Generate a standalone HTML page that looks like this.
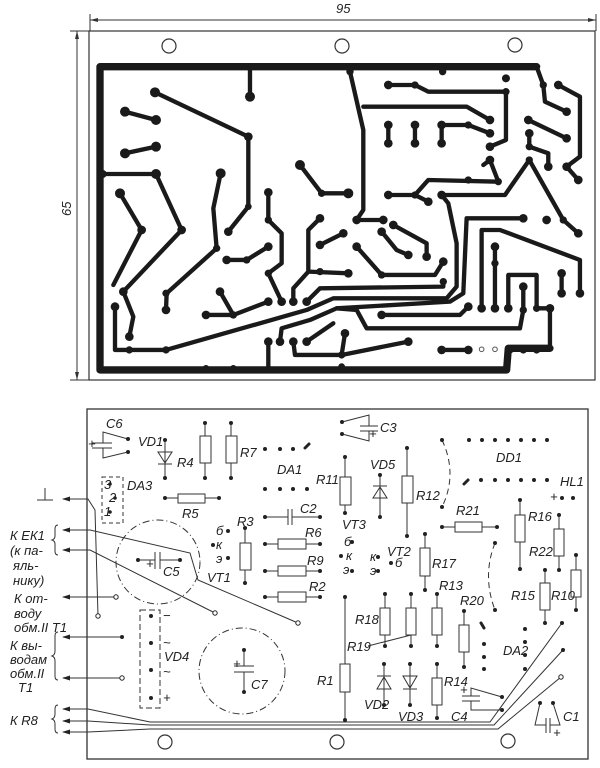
<!DOCTYPE html>
<html><head><meta charset="utf-8"><style>
html,body{margin:0;padding:0;background:#fff}
svg{display:block}
text{font-family:"Liberation Sans",sans-serif;font-style:italic;font-size:13px;fill:#222}
</style></head><body>
<svg width="600" height="768" viewBox="0 0 600 768" xmlns="http://www.w3.org/2000/svg">
<!-- dimensions -->
<g stroke="#333" stroke-width="1" fill="none">
<line x1="90" y1="20" x2="596" y2="20"/>
<line x1="90" y1="14" x2="90" y2="31"/>
<line x1="596" y1="14" x2="596" y2="31"/>
<line x1="77" y1="31" x2="77" y2="380"/>
<line x1="70" y1="31" x2="90" y2="31"/>
<line x1="70" y1="380" x2="90" y2="380"/>
</g>
<g fill="#333"><path d="M90,20 l8,-2 v4z"/><path d="M596,20 l-8,-2 v4z"/><path d="M77,31 l-2,8 h4z"/><path d="M77,380 l-2,-8 h4z"/></g>
<text x="336" y="13">95</text>
<text x="0" y="0" transform="translate(71,216) rotate(-90)">65</text>
<!-- top board -->
<rect x="89" y="31" width="506" height="349" fill="none" stroke="#333" stroke-width="1.2"/>
<g fill="none" stroke="#333" stroke-width="1.2"><circle cx="169" cy="46" r="7"/><circle cx="342" cy="46" r="7"/><circle cx="515" cy="45" r="7"/></g>
<g transform="translate(80,30) scale(0.3333)" fill="none" stroke="#1a1a1a" stroke-linejoin="round" stroke-linecap="round">
<path stroke-width="22" d="M1370,110 L60,110 L60,1020 L1280,1020 L1285,955 L1410,955"/>
<g stroke-width="13">
<path d="M510,112 L510,200"/>
<path d="M225,187 L505,320 L505,530 L445,605"/>
<path d="M135,245 L228,270"/>
<path d="M135,370 L228,350"/>
<path d="M68,432 L228,432 L305,600 L130,785 L160,860 L148,920"/>
<path d="M120,490 L185,600 L100,765"/>
<path d="M422,430 L400,535 L410,655 L260,790 L258,840"/>
<path d="M565,487 L565,570 L605,610 L605,700 L565,730 L605,815"/>
<path d="M440,690 L500,690 L565,650"/>
<path d="M660,405 L725,490 L805,490"/>
<path d="M810,125 L850,300 L850,540 L830,570 L910,570"/>
<path d="M850,230 L1160,230 L1230,270"/>
<path d="M925,165 L1005,165 L1045,185 L1278,185 L1278,330 L1230,350"/>
<path d="M925,285 L925,340 M1005,285 L1005,340 M1085,285 L1085,340 M1085,285 L1165,285 L1230,310"/>
<path d="M1370,110 L1390,165 L1395,215 L1460,245"/>
<path d="M1435,165 L1500,200 L1500,380 L1460,410 L1495,450"/>
<path d="M1345,270 L1460,325"/>
<path d="M1348,310 L1348,350 L1405,370 L1405,410"/>
<path d="M1230,390 L1255,455 L1045,450 L1005,495 L925,495 M1005,495 L1045,515 M1230,390 L1210,405"/>
<path d="M1085,495 L1275,495 L1348,390 L1450,570 L1495,610"/>
<path d="M720,565 L685,600 L685,725 L805,730 M685,725 L640,775 L640,815"/>
<path d="M720,645 L790,610"/>
<path d="M830,650 L905,735 L1065,735 L1090,695"/>
<path d="M905,605 L950,660 L985,675"/>
<path d="M940,585 L1040,640 L1040,680"/>
<path d="M105,830 L105,960 L258,960 L680,840 L760,805 L1100,805 L1130,770 L1130,640 L1105,520 L1085,495"/>
<path d="M680,815 L720,775 L1090,770 L1090,755"/>
<path d="M378,855 L460,855 L565,815 M420,785 L460,855"/>
<path d="M1330,565 L1160,565 L1150,790 L1110,815 L770,835 L690,870 L605,895 L600,935"/>
<path d="M770,835 L830,840 L860,895 L1320,895 L1330,840 L1330,770"/>
<path d="M1205,835 L1205,600 L1260,600 L1500,690 L1500,790"/>
<path d="M1245,650 L1245,835"/>
<path d="M1285,835 L1285,735 L1370,735 L1370,835 L1410,835 L1410,955"/>
<path d="M1445,730 L1445,790"/>
<path d="M905,855 L1140,855 L1165,830"/>
<path d="M565,935 L565,1010"/>
<path d="M640,935 L645,975 L785,975 L985,935 M785,975 L795,910 M680,935 L760,880"/>
<path d="M1085,960 L1165,960"/>
</g>
</g>
<g transform="translate(80,30) scale(0.3333)" fill="#1a1a1a" stroke="none">
<g id="pads">
<circle cx="510" cy="200" r="15"/><circle cx="225" cy="187" r="15"/><circle cx="505" cy="320" r="13"/><circle cx="505" cy="530" r="10"/><circle cx="445" cy="605" r="13"/>
<circle cx="135" cy="245" r="15"/><circle cx="228" cy="270" r="15"/><circle cx="135" cy="370" r="15"/><circle cx="228" cy="350" r="15"/>
<circle cx="68" cy="432" r="12"/><circle cx="228" cy="432" r="15"/><circle cx="305" cy="600" r="13"/><circle cx="130" cy="785" r="13"/><circle cx="148" cy="920" r="13"/>
<circle cx="120" cy="490" r="15"/><circle cx="185" cy="600" r="13"/><circle cx="422" cy="430" r="15"/><circle cx="410" cy="655" r="11"/><circle cx="258" cy="840" r="13"/><circle cx="258" cy="790" r="11"/>
<circle cx="565" cy="487" r="13"/><circle cx="565" cy="570" r="11"/><circle cx="565" cy="730" r="11"/><circle cx="605" cy="815" r="13"/>
<circle cx="440" cy="690" r="13"/><circle cx="500" cy="690" r="11"/><circle cx="565" cy="650" r="13"/>
<circle cx="660" cy="405" r="15"/><circle cx="725" cy="490" r="11"/><circle cx="805" cy="490" r="15"/>
<circle cx="810" cy="125" r="11"/><circle cx="830" cy="570" r="13"/><circle cx="910" cy="570" r="13"/>
<circle cx="1230" cy="270" r="13"/><circle cx="925" cy="165" r="13"/><circle cx="1005" cy="165" r="11"/><circle cx="1278" cy="185" r="11"/><circle cx="1230" cy="350" r="13"/>
<circle cx="925" cy="285" r="13"/><circle cx="925" cy="340" r="13"/><circle cx="1005" cy="285" r="13"/><circle cx="1005" cy="340" r="13"/><circle cx="1085" cy="285" r="13"/><circle cx="1085" cy="340" r="13"/><circle cx="1165" cy="285" r="11"/><circle cx="1230" cy="310" r="13"/>
<circle cx="1088" cy="125" r="11"/><circle cx="1278" cy="145" r="12"/>
<circle cx="1390" cy="165" r="11"/><circle cx="1460" cy="245" r="13"/><circle cx="1435" cy="165" r="13"/><circle cx="1460" cy="410" r="13"/><circle cx="1495" cy="450" r="13"/>
<circle cx="1345" cy="270" r="13"/><circle cx="1460" cy="325" r="13"/><circle cx="1348" cy="310" r="13"/><circle cx="1348" cy="350" r="11"/><circle cx="1405" cy="410" r="13"/>
<circle cx="1230" cy="390" r="13"/><circle cx="1255" cy="455" r="11"/><circle cx="1165" cy="450" r="11"/><circle cx="925" cy="495" r="13"/><circle cx="1005" cy="495" r="11"/><circle cx="1045" cy="515" r="13"/>
<circle cx="1085" cy="495" r="13"/><circle cx="1348" cy="390" r="11"/><circle cx="1450" cy="570" r="11"/><circle cx="1495" cy="610" r="13"/>
<circle cx="720" cy="565" r="13"/><circle cx="720" cy="725" r="11"/><circle cx="805" cy="730" r="13"/><circle cx="640" cy="815" r="13"/>
<circle cx="720" cy="645" r="13"/><circle cx="790" cy="610" r="13"/><circle cx="830" cy="650" r="13"/><circle cx="905" cy="735" r="11"/><circle cx="1090" cy="695" r="13"/>
<circle cx="905" cy="605" r="13"/><circle cx="985" cy="675" r="13"/><circle cx="940" cy="585" r="13"/><circle cx="1040" cy="680" r="13"/>
<circle cx="105" cy="830" r="13"/><circle cx="148" cy="960" r="11"/><circle cx="258" cy="960" r="11"/><circle cx="680" cy="815" r="13"/><circle cx="1090" cy="755" r="11"/>
<circle cx="378" cy="855" r="13"/><circle cx="460" cy="855" r="11"/><circle cx="565" cy="815" r="13"/><circle cx="420" cy="785" r="13"/>
<circle cx="1330" cy="565" r="13"/><circle cx="1400" cy="570" r="13"/><circle cx="600" cy="935" r="13"/><circle cx="1330" cy="770" r="13"/><circle cx="1330" cy="840" r="11"/>
<circle cx="1205" cy="835" r="13"/><circle cx="1500" cy="790" r="13"/><circle cx="1245" cy="650" r="13"/><circle cx="1245" cy="700" r="11"/><circle cx="1245" cy="835" r="13"/>
<circle cx="1285" cy="835" r="13"/><circle cx="1370" cy="835" r="11"/><circle cx="1410" cy="835" r="13"/><circle cx="1445" cy="730" r="13"/><circle cx="1445" cy="790" r="13"/>
<circle cx="905" cy="855" r="13"/><circle cx="1165" cy="830" r="13"/><circle cx="565" cy="935" r="13"/><circle cx="640" cy="935" r="13"/><circle cx="785" cy="975" r="11"/><circle cx="985" cy="935" r="13"/><circle cx="795" cy="910" r="13"/><circle cx="680" cy="935" r="13"/>
<circle cx="1085" cy="960" r="13"/><circle cx="1165" cy="960" r="13"/><circle cx="1330" cy="960" r="11"/><circle cx="1370" cy="960" r="11"/><circle cx="1290" cy="960" r="11"/>
<circle cx="378" cy="1015" r="10"/><circle cx="460" cy="1015" r="10"/><circle cx="785" cy="1010" r="10"/><circle cx="1205" cy="958" r="7" fill="none" stroke="#555" stroke-width="3"/><circle cx="1245" cy="958" r="7" fill="none" stroke="#555" stroke-width="3"/>
</g>
</g>
<!-- bottom board -->
<rect x="87" y="409" width="501" height="350" fill="none" stroke="#333" stroke-width="1.3"/>
<g fill="none" stroke="#333" stroke-width="1.2"><circle cx="165" cy="742" r="7"/><circle cx="337" cy="742" r="7"/><circle cx="508" cy="741" r="7"/></g>
<g fill="none" stroke="#333" stroke-width="1">
<!-- circles dash-dot -->
<circle cx="158" cy="562" r="42" stroke-dasharray="7,3,1,3"/>
<circle cx="242" cy="671" r="43" stroke-dasharray="7,3,1,3"/>
<!-- DA3, VD4 dashed -->
<rect x="102" y="477" width="21" height="46" stroke-dasharray="4,3"/>
<rect x="140" y="610" width="20" height="98" stroke-dasharray="6,3"/>
<!-- arcs dashed -->
<path d="M442,440 Q458,474 442,507" stroke-dasharray="6,4"/>
<path d="M495,543 Q482,576 495,610" stroke-dasharray="6,4"/>
<!-- resistors bodies -->
<rect x="200" y="436" width="11" height="27"/><rect x="226" y="436" width="11" height="27"/>
<rect x="178" y="494" width="27" height="9"/>
<rect x="240" y="543" width="11" height="27"/>
<rect x="278" y="539" width="28" height="10"/><rect x="278" y="566" width="28" height="10"/><rect x="278" y="592" width="28" height="10"/>
<rect x="340" y="477" width="11" height="28"/><rect x="402" y="476" width="11" height="27"/>
<rect x="455" y="522" width="27" height="10"/>
<rect x="420" y="548" width="10" height="28"/>
<rect x="380" y="608" width="10" height="27"/><rect x="406" y="608" width="10" height="27"/><rect x="432" y="608" width="10" height="27"/>
<rect x="459" y="625" width="10" height="27"/>
<rect x="340" y="664" width="10" height="28"/><rect x="432" y="678" width="10" height="27"/>
<rect x="515" y="515" width="10" height="27"/><rect x="554" y="529" width="10" height="27"/><rect x="540" y="583" width="10" height="27"/><rect x="571" y="570" width="10" height="27"/>
<!-- leads -->
<path d="M205,423V436M205,463V478M231,423V436M231,463V478"/>
<path d="M165,498H178M205,498H219"/>
<path d="M245,528V543M245,570V583"/>
<path d="M265,544H278M306,544H320M265,571H278M306,571H320M265,597H278M306,597H320"/>
<path d="M265,517H288M292,517H320M288,509V525M292,509V525"/>
<path d="M345,457V477M345,505V513M407,448V476M407,503V536"/>
<path d="M442,527H455M482,527H497M425,534V548M425,576V590"/>
<path d="M385,594V608M385,635V646M411,594V608M411,635V646M437,594V608M437,635V646M464,611V625M464,652V667"/>
<path d="M345,597V664M345,692V720M437,664V678M437,705V718"/>
<path d="M520,500V515M520,542V569M559,515V529M559,556V570M545,570V583M545,610V623M576,555V570M576,597V610"/>
<path d="M368,646L411,635"/>
<!-- diodes -->
<path d="M165,440V478M158,452H172L165,463ZM158,464H172"/>
<path d="M380,475V517M373,498H387L380,487ZM373,486H387"/>
<path d="M384,664V705M377,689H391L384,677ZM377,676H391"/>
<path d="M410,664V705M403,676H417L410,688ZM403,689H417"/>
<!-- C6 -->
<path d="M92,443H112M92,448H112M103,443L103,432L128,439M103,448L103,458L128,452"/>
<!-- C3 -->
<path d="M360,426H378M360,431H378M342,422L369,415L369,426M342,434L369,441L369,431"/>
<!-- C5 -->
<path d="M138,560H155M160,560H180M155,552V569M160,552V569"/>
<!-- C7 -->
<path d="M234,666H254M234,672H254M244,650V666M244,672V692"/>
<!-- C4 -->
<path d="M462,696H480M462,701H480M471,696L471,688L502,697M471,701L471,710L502,710"/>
<!-- C1 -->
<path d="M540,703L535,725H546M553,703L560,725H550M546,718V733M550,718V733"/>
<!-- ground -->
<path d="M45,488V500M37,500H53"/>
<!-- wires -->
<path d="M63,499H88L95,510L98,616"/>
<path d="M63,530H90L190,553L198,580L298,623"/>
<path d="M63,550H90L215,613"/>
<path d="M63,597H116M63,637H122M63,678H122"/>
<path d="M63,709H88L150,722H490L562,623"/>
<path d="M63,721H88L150,725H494L563,650"/>
<path d="M63,732H88L150,729H498L561,677"/>
<!-- braces -->
<path d="M58,525 q-3,0 -3,4 v7 q0,3 -3,4 q3,1 3,4 v7 q0,4 3,4"/>
<path d="M58,632 q-3,0 -3,4 v15 q0,4 -3,5 q3,1 3,5 v15 q0,4 3,4"/>
<path d="M58,705 q-3,0 -3,4 v5 q0,4 -3,5 q3,1 3,5 v5 q0,4 3,4"/>
</g>
<!-- arrowheads -->
<g fill="#222"><path d="M62,499l8,-2.5v5z"/><path d="M62,530l8,-2.5v5z"/><path d="M62,550l8,-2.5v5z"/><path d="M62,597l8,-2.5v5z"/><path d="M62,637l8,-2.5v5z"/><path d="M62,678l8,-2.5v5z"/><path d="M62,709l8,-2.5v5z"/><path d="M62,721l8,-2.5v5z"/><path d="M62,732l8,-2.5v5z"/></g>
<!-- pads -->
<g fill="#222">
<circle cx="128" cy="439" r="2"/><circle cx="128" cy="452" r="2"/><circle cx="165" cy="440" r="2"/><circle cx="165" cy="478" r="2"/>
<circle cx="205" cy="423" r="2"/><circle cx="205" cy="478" r="2"/><circle cx="231" cy="423" r="2"/><circle cx="231" cy="478" r="2"/>
<circle cx="265" cy="449" r="2"/><circle cx="280" cy="449" r="2"/><circle cx="293" cy="449" r="2"/>
<circle cx="265" cy="489" r="2"/><circle cx="280" cy="489" r="2"/><circle cx="293" cy="489" r="2"/><circle cx="307" cy="489" r="2"/>
<circle cx="110" cy="484" r="1.8"/><circle cx="115" cy="498" r="1.8"/><circle cx="110" cy="512" r="1.8"/>
<circle cx="165" cy="498" r="2"/><circle cx="219" cy="498" r="2"/><circle cx="245" cy="528" r="2"/><circle cx="245" cy="583" r="2"/>
<circle cx="228" cy="531" r="2"/><circle cx="213" cy="545" r="2"/><circle cx="228" cy="558" r="2"/>
<circle cx="265" cy="517" r="2"/><circle cx="320" cy="517" r="2"/><circle cx="265" cy="544" r="2"/><circle cx="320" cy="544" r="2"/><circle cx="265" cy="571" r="2"/><circle cx="320" cy="571" r="2"/><circle cx="265" cy="597" r="2"/><circle cx="320" cy="597" r="2"/>
<circle cx="138" cy="560" r="2"/><circle cx="180" cy="560" r="2"/><circle cx="244" cy="650" r="2"/><circle cx="244" cy="692" r="2"/>
<circle cx="151" cy="616" r="2"/><circle cx="151" cy="643" r="2"/><circle cx="151" cy="670" r="2"/><circle cx="151" cy="698" r="2"/>
<circle cx="122" cy="637" r="2"/>
<circle cx="342" cy="422" r="2"/><circle cx="342" cy="434" r="2"/>
<circle cx="345" cy="457" r="2"/><circle cx="345" cy="513" r="2"/><circle cx="380" cy="475" r="2"/><circle cx="380" cy="517" r="2"/><circle cx="407" cy="448" r="2"/><circle cx="407" cy="536" r="2"/>
<circle cx="469" cy="440" r="2"/><circle cx="482" cy="440" r="2"/><circle cx="495" cy="440" r="2"/><circle cx="508" cy="440" r="2"/><circle cx="521" cy="440" r="2"/><circle cx="534" cy="440" r="2"/><circle cx="547" cy="440" r="2"/>
<circle cx="481" cy="480" r="2"/><circle cx="495" cy="480" r="2"/><circle cx="508" cy="480" r="2"/><circle cx="521" cy="480" r="2"/><circle cx="534" cy="480" r="2"/><circle cx="547" cy="480" r="2"/>
<circle cx="442" cy="440" r="2"/><circle cx="442" cy="507" r="2"/><circle cx="495" cy="543" r="2"/><circle cx="495" cy="610" r="2"/>
<circle cx="562" cy="498" r="2"/><circle cx="573" cy="498" r="2"/>
<circle cx="352" cy="542" r="2"/><circle cx="341" cy="556" r="2"/><circle cx="352" cy="571" r="2"/><circle cx="378" cy="557" r="2"/><circle cx="391" cy="563" r="2"/><circle cx="378" cy="571" r="2"/>
<circle cx="442" cy="527" r="2"/><circle cx="497" cy="527" r="2"/><circle cx="425" cy="534" r="2"/><circle cx="425" cy="590" r="2"/>
<circle cx="385" cy="594" r="2"/><circle cx="385" cy="646" r="2"/><circle cx="411" cy="594" r="2"/><circle cx="411" cy="646" r="2"/><circle cx="437" cy="594" r="2"/><circle cx="437" cy="646" r="2"/><circle cx="464" cy="611" r="2"/><circle cx="464" cy="667" r="2"/>
<circle cx="345" cy="597" r="2"/><circle cx="345" cy="720" r="2"/><circle cx="384" cy="664" r="2"/><circle cx="384" cy="705" r="2"/><circle cx="410" cy="664" r="2"/><circle cx="410" cy="705" r="2"/><circle cx="437" cy="664" r="2"/><circle cx="437" cy="718" r="2"/>
<circle cx="502" cy="697" r="2"/><circle cx="502" cy="710" r="2"/>
<circle cx="484" cy="644" r="2"/><circle cx="484" cy="657" r="2"/><circle cx="484" cy="669" r="2"/><circle cx="525" cy="629" r="2"/><circle cx="525" cy="642" r="2"/><circle cx="525" cy="655" r="2"/><circle cx="525" cy="669" r="2"/>
<circle cx="520" cy="500" r="2"/><circle cx="520" cy="569" r="2"/><circle cx="559" cy="515" r="2"/><circle cx="559" cy="570" r="2"/><circle cx="545" cy="570" r="2"/><circle cx="545" cy="623" r="2"/><circle cx="576" cy="555" r="2"/><circle cx="576" cy="610" r="2"/>
<circle cx="562" cy="623" r="2"/><circle cx="563" cy="650" r="2"/><circle cx="540" cy="703" r="2"/><circle cx="553" cy="703" r="2"/>
</g>
<g fill="#fff" stroke="#222" stroke-width="1"><circle cx="116" cy="597" r="2.2"/><circle cx="98" cy="616" r="2.2"/><circle cx="298" cy="623" r="2.2"/><circle cx="215" cy="613" r="2.2"/><circle cx="122" cy="678" r="2.2"/><circle cx="561" cy="677" r="2.2"/></g>
<g stroke="#222" stroke-width="3" stroke-linecap="round"><path d="M305,448l4,-4"/><path d="M464,484l4,-4"/><path d="M481,623l3,5"/></g>
<!-- labels -->
<g>
<text x="106" y="428">C6</text><text x="88" y="448" font-size="12">+</text>
<text x="138" y="446">VD1</text><text x="177" y="467">R4</text><text x="240" y="457">R7</text>
<text x="277" y="474">DA1</text><text x="127" y="490">DA3</text>
<text x="104" y="489" font-size="10">3</text><text x="109" y="502" font-size="10">2</text><text x="104" y="516" font-size="10">1</text>
<text x="182" y="518">R5</text><text x="237" y="526">R3</text>
<text x="216" y="535" font-size="11">б</text><text x="216" y="549" font-size="11">к</text><text x="216" y="563" font-size="11">э</text>
<text x="207" y="582">VT1</text>
<text x="300" y="513">C2</text><text x="305" y="537">R6</text><text x="307" y="565">R9</text><text x="309" y="591">R2</text>
<text x="146" y="568">+</text><text x="163" y="576">C5</text>
<text x="163" y="620">−</text><text x="163" y="647">~</text><text x="164" y="661">VD4</text><text x="163" y="676">~</text><text x="163" y="702">+</text>
<text x="233" y="668">+</text><text x="251" y="689">C7</text>
<text x="10" y="540">К ЕК1</text><text x="10" y="555">(к па-</text><text x="13" y="570">яль-</text><text x="13" y="585">нику)</text>
<text x="13" y="588" display="none"></text>
<text x="13" y="603" display="none"></text>
<text x="14" y="586" display="none"></text>
<text x="14" y="603">К от-</text><text x="14" y="618">воду</text><text x="14" y="632">обм.II T1</text>
<text x="10" y="650">К вы-</text><text x="10" y="664">водам</text><text x="10" y="678">обм.II</text><text x="18" y="692">T1</text>
<text x="10" y="725">К R8</text>
<text x="380" y="432">C3</text><text x="369" y="438">+</text>
<text x="316" y="484">R11</text><text x="370" y="469">VD5</text><text x="416" y="500">R12</text>
<text x="496" y="462">DD1</text><text x="560" y="486">HL1</text><text x="550" y="501">+</text>
<text x="342" y="529">VT3</text>
<text x="344" y="546" font-size="11">б</text><text x="346" y="560" font-size="11">к</text><text x="343" y="574" font-size="11">э</text>
<text x="370" y="561" font-size="11">к</text><text x="395" y="567" font-size="11">б</text><text x="370" y="575" font-size="11">э</text>
<text x="387" y="556">VT2</text>
<text x="456" y="515">R21</text><text x="432" y="568">R17</text><text x="439" y="590">R13</text><text x="460" y="605">R20</text>
<text x="355" y="624">R18</text><text x="347" y="651">R19</text>
<text x="317" y="685">R1</text><text x="444" y="686">R14</text>
<text x="364" y="709">VD2</text><text x="398" y="721">VD3</text>
<text x="460" y="694">+</text><text x="451" y="721">C4</text><text x="503" y="655">DA2</text>
<text x="528" y="521">R16</text><text x="529" y="556">R22</text><text x="511" y="600">R15</text><text x="551" y="600">R10</text>
<text x="563" y="721">C1</text><text x="553" y="737">+</text>
</g>
</svg>
</body></html>
